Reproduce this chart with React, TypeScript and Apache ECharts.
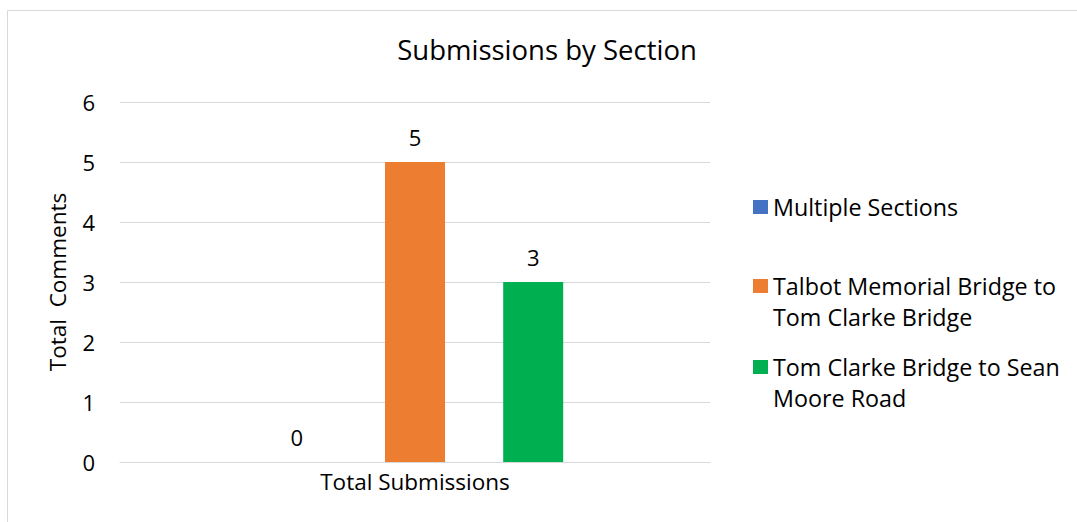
import React, { useEffect, useRef } from "react";
import * as echarts from "echarts";

const categories = ["Total Submissions"];
const seriesNames = [
  "Multiple Sections",
  "Talbot Memorial Bridge to Tom Clarke Bridge",
  "Tom Clarke Bridge to Sean Moore Road",
];
const legendLabels = [
  "Multiple Sections",
  " \nTalbot Memorial Bridge to\nTom Clarke Bridge",
  " \nTom Clarke Bridge to Sean\nMoore Road",
];
const seriesValues = [[0], [5], [3]];
const seriesColors = ["#4472C4", "#ED7D31", "#00B050"];

const FONT = "'Open Sans', sans-serif";

export default function App() {
  const ref = useRef<HTMLDivElement>(null);
  useEffect(() => {
    if (!ref.current) return;
    const chart = echarts.init(ref.current, null, { renderer: "svg" });
    const legendTops = [186.5, 234.5, 315.5];
    chart.setOption({
      animation: false,
      backgroundColor: "#ffffff",
      textStyle: { fontFamily: FONT, color: "#000" },
      graphic: [
        {
          type: "rect",
          shape: { x: 7.5, y: 10.5, width: 1200, height: 700 },
          style: { fill: "none", stroke: "#d9d9d9", lineWidth: 1 },
          silent: true,
        },
      ],
      title: {
        text: "Submissions by Section",
        left: 542,
        top: 30,
        textAlign: "center",
        textStyle: { fontFamily: FONT, fontSize: 27.5, fontWeight: "normal", color: "#000" },
      },
      legend: seriesNames.map((n, i) => ({
        data: [n],
        orient: "vertical",
        left: 748,
        top: legendTops[i],
        itemWidth: 15,
        itemHeight: 14,
        icon: "rect",
        formatter: () => legendLabels[i],
        textStyle: {
          fontFamily: FONT,
          fontSize: 23.3,
          color: "#000",
          lineHeight: 31,
        },
        selectedMode: false,
      })),
      grid: { left: 120, top: 102, width: 590, height: 360 },
      xAxis: {
        type: "category",
        data: categories,
        axisLine: { lineStyle: { color: "#d9d9d9", width: 1 } },
        axisTick: { show: false },
        axisLabel: { fontFamily: FONT, fontSize: 22.5, color: "#000", margin: 8 },
      },
      yAxis: {
        type: "value",
        min: 0,
        max: 6,
        interval: 1,
        name: "Total  Comments",
        nameLocation: "middle",
        nameGap: 51,
        nameTextStyle: { fontFamily: FONT, fontSize: 22.5, color: "#000" },
        axisLine: { show: false },
        axisTick: { show: false },
        axisLabel: { fontFamily: FONT, fontSize: 22, color: "#000", margin: 25 },
        splitLine: { lineStyle: { color: "#d9d9d9", width: 1 } },
      },
      series: seriesNames.map((n, i) => ({
        name: n,
        type: "bar",
        data: seriesValues[i],
        barWidth: 60,
        barGap: "97%",
        itemStyle: { color: seriesColors[i] },
        label: {
          show: true,
          position: "top",
          distance: 14,
          fontFamily: FONT,
          fontSize: 22,
          color: "#000",
        },
      })),
    });
    return () => chart.dispose();
  }, []);
  return (
    <div
      ref={ref}
      style={{ position: "absolute", left: 0, top: 0, width: 1077, height: 522 }}
    />
  );
}
